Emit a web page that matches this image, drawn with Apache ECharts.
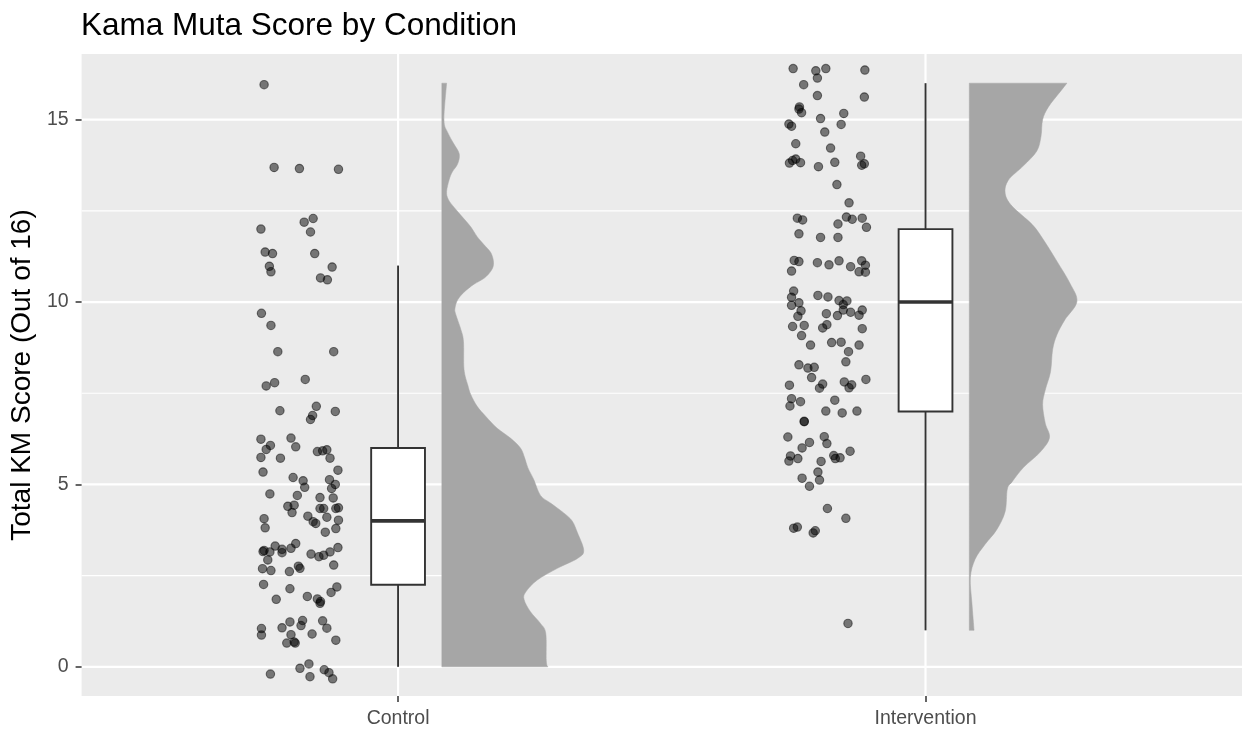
<!DOCTYPE html>
<html>
<head>
<meta charset="utf-8">
<title>Kama Muta Score by Condition</title>
<script src="https://cdn.jsdelivr.net/npm/echarts@6/dist/echarts.min.js"></script>
<style>
  html, body { margin: 0; padding: 0; background: #ffffff; }
  #chart { width: 1242px; height: 729px; }
</style>
</head>
<body>
<div id="chart"></div>
<script>
// ---- data ----
const categories = ['Control', 'Intervention'];
const yTicks = [0, 5, 10, 15];
const yMinorTicks = [2.5, 7.5, 12.5];

// jittered raw scores: [jittered category position, score]
const controlPoints = [
  [0.746, 15.96], [0.765, 13.69], [0.813, 13.66], [0.887, 13.64], [0.822, 12.19],
  [0.839, 12.29], [0.740, 12.00], [0.834, 11.92], [0.748, 11.37], [0.762, 11.33],
  [0.842, 11.33], [0.756, 10.98], [0.759, 10.83], [0.875, 10.96], [0.853, 10.66],
  [0.866, 10.61], [0.741, 9.69], [0.759, 9.36], [0.772, 8.64], [0.878, 8.64],
  [0.750, 7.70], [0.766, 7.79], [0.824, 7.88], [0.776, 7.02], [0.845, 7.14],
  [0.838, 6.89], [0.834, 6.78], [0.881, 7.00], [0.740, 6.24], [0.797, 6.27],
  [0.758, 6.07], [0.750, 5.96], [0.806, 6.03], [0.847, 5.90], [0.857, 5.92],
  [0.865, 5.95], [0.740, 5.74], [0.777, 5.72], [0.871, 5.72], [0.744, 5.34],
  [0.886, 5.39], [0.801, 5.19], [0.820, 5.10], [0.823, 4.92], [0.870, 5.13],
  [0.881, 5.00], [0.874, 4.89], [0.757, 4.74], [0.809, 4.70], [0.852, 4.64],
  [0.877, 4.63], [0.791, 4.40], [0.803, 4.43], [0.799, 4.23], [0.852, 4.34],
  [0.859, 4.34], [0.882, 4.34], [0.887, 4.36], [0.746, 4.06], [0.748, 3.81],
  [0.829, 4.13], [0.839, 3.98], [0.844, 3.93], [0.865, 4.10], [0.887, 4.02],
  [0.882, 3.79], [0.862, 3.69], [0.767, 3.31], [0.746, 3.19], [0.744, 3.16],
  [0.757, 3.15], [0.780, 3.22], [0.780, 3.13], [0.797, 3.25], [0.806, 3.38],
  [0.753, 2.93], [0.835, 3.09], [0.850, 3.02], [0.859, 3.06], [0.871, 3.15],
  [0.886, 3.27], [0.878, 2.79], [0.743, 2.69], [0.759, 2.64], [0.794, 2.61],
  [0.811, 2.76], [0.814, 2.70], [0.745, 2.26], [0.795, 2.14], [0.884, 2.19],
  [0.873, 2.04], [0.769, 1.85], [0.828, 1.93], [0.847, 1.86], [0.853, 1.79],
  [0.852, 1.74], [0.741, 1.05], [0.741, 0.87], [0.780, 1.07], [0.795, 1.23],
  [0.819, 1.27], [0.816, 1.13], [0.797, 0.88], [0.789, 0.65], [0.803, 0.68],
  [0.805, 0.65], [0.837, 0.90], [0.857, 1.26], [0.865, 1.06], [0.882, 0.73],
  [0.758, -0.20], [0.814, -0.04], [0.831, 0.08], [0.833, -0.27], [0.860, -0.08],
  [0.869, -0.16], [0.876, -0.33]
];

const interventionPoints = [
  [1.749, 16.40], [1.792, 16.34], [1.811, 16.40], [1.885, 16.36], [1.795, 16.14],
  [1.769, 15.96], [1.795, 15.66], [1.884, 15.62], [1.761, 15.35], [1.760, 15.29],
  [1.765, 15.19], [1.801, 15.03], [1.845, 15.17], [1.741, 14.88], [1.746, 14.82],
  [1.840, 14.87], [1.809, 14.66], [1.754, 14.34], [1.820, 14.22], [1.742, 13.81],
  [1.748, 13.88], [1.754, 13.92], [1.763, 13.82], [1.797, 13.71], [1.828, 13.83],
  [1.877, 14.00], [1.879, 13.75], [1.884, 13.79], [1.832, 13.22], [1.855, 12.72],
  [1.757, 12.30], [1.767, 12.25], [1.834, 12.14], [1.850, 12.33], [1.861, 12.27],
  [1.880, 12.30], [1.888, 12.05], [1.760, 11.87], [1.801, 11.77], [1.834, 11.77],
  [1.751, 11.14], [1.760, 11.11], [1.746, 10.85], [1.795, 11.08], [1.817, 11.02],
  [1.836, 11.13], [1.858, 10.97], [1.879, 11.13], [1.886, 11.01], [1.874, 10.83],
  [1.886, 10.82], [1.750, 10.30], [1.746, 10.13], [1.760, 9.98], [1.746, 9.91],
  [1.796, 10.18], [1.815, 10.14], [1.836, 10.04], [1.851, 10.03], [1.844, 9.93],
  [1.764, 9.76], [1.758, 9.61], [1.812, 9.68], [1.844, 9.78], [1.858, 9.72],
  [1.833, 9.63], [1.880, 9.78], [1.874, 9.64], [1.748, 9.33], [1.770, 9.36],
  [1.805, 9.29], [1.813, 9.38], [1.880, 9.27],
  [1.765, 9.08], [1.782, 8.82], [1.822, 8.89], [1.840, 8.90], [1.854, 8.64],
  [1.874, 8.82], [1.760, 8.28], [1.777, 8.19], [1.789, 8.21], [1.784, 7.93],
  [1.849, 8.36], [1.742, 7.72], [1.799, 7.64], [1.805, 7.75], [1.846, 7.81],
  [1.855, 7.65], [1.860, 7.73], [1.887, 7.88], [1.746, 7.35], [1.743, 7.15],
  [1.763, 7.27], [1.828, 7.31], [1.811, 7.01], [1.842, 6.96], [1.870, 7.01],
  [1.770, 6.73], [1.770, 6.72], [1.739, 6.30], [1.780, 6.15], [1.766, 6.00],
  [1.808, 6.31], [1.813, 6.12], [1.744, 5.78], [1.741, 5.64], [1.758, 5.71],
  [1.826, 5.79], [1.829, 5.71], [1.838, 5.73], [1.857, 5.91], [1.802, 5.63],
  [1.796, 5.34], [1.799, 5.12], [1.766, 5.17], [1.780, 4.95], [1.814, 4.34],
  [1.849, 4.07], [1.750, 3.80], [1.757, 3.83], [1.787, 3.67], [1.791, 3.73],
  [1.853, 1.19]
];

// box summaries: [lower whisker, Q1, median, Q3, upper whisker]
const controlBox = [0, 2.25, 4, 6, 11];
const interventionBox = [1, 7, 10, 12, 16];

// half-violin density profiles: score levels and half-widths (category units)
const controlDensityY = [16.0, 15.0, 14.65, 14.33, 14.06, 13.79, 13.57, 13.36, 13.03, 12.82,
  12.60, 12.33, 12.06, 11.79, 11.57, 11.35, 11.08, 10.87, 10.65, 10.49, 10.27, 10.06, 9.84,
  9.68, 9.25, 8.92, 8.16, 7.73, 7.46, 7.14, 6.87, 6.54, 6.27, 6.00, 5.73, 5.46, 5.14, 4.70,
  4.49, 4.22, 4.00, 3.68, 3.19, 2.97, 2.70, 2.38, 2.05, 1.84, 1.51, 1.19, 0.92, 0.16, 0];
const controlDensityW = [0.009, 0.004, 0.011, 0.023, 0.033, 0.030, 0.020, 0.014, 0.009, 0.012,
  0.023, 0.039, 0.055, 0.067, 0.080, 0.093, 0.098, 0.094, 0.080, 0.061, 0.042, 0.030, 0.025,
  0.026, 0.036, 0.041, 0.042, 0.049, 0.055, 0.067, 0.083, 0.105, 0.130, 0.149, 0.157, 0.163,
  0.174, 0.187, 0.206, 0.231, 0.247, 0.257, 0.269, 0.257, 0.219, 0.181, 0.159, 0.156, 0.168,
  0.187, 0.197, 0.198, 0.201];
const interventionDensityY = [16.0, 15.76, 15.35, 15.0, 14.55, 14.14, 13.74, 13.34, 12.98,
  12.63, 12.13, 11.72, 11.12, 10.51, 10.01, 9.51, 9.10, 8.70, 8.09, 7.59, 7.19, 6.68, 6.28,
  5.88, 5.47, 5.07, 4.87, 4.26, 3.76, 3.36, 2.95, 2.45, 1.74, 1.0];
const interventionDensityW = [0.185, 0.172, 0.150, 0.139, 0.136, 0.128, 0.103, 0.074, 0.068,
  0.081, 0.119, 0.140, 0.166, 0.191, 0.204, 0.181, 0.166, 0.158, 0.154, 0.144, 0.139, 0.144,
  0.152, 0.134, 0.103, 0.081, 0.072, 0.068, 0.052, 0.030, 0.011, 0.002, 0.005, 0.009];

// ---- layout / style constants ----
const FONT = "'Liberation Sans', Arial, sans-serif";
const BOX_HALF = 0.051;       // half box width in category units
const VIOLIN_OFFSET = 0.083;  // gap between category centre and violin base
const densities = [
  { y: controlDensityY, w: controlDensityW },
  { y: interventionDensityY, w: interventionDensityW }
];

const catPositions = categories.map((c, i) => i + 1);
const gridRows = yTicks.map(v => [1, v, 1]).concat(yMinorTicks.map(v => [1, v, 0]));
const gridCols = catPositions.map(p => [p, 0]);

// Smooth outline through pixel points (Catmull-Rom rendered as cubic Beziers)
function smoothEdge(pts) {
  let d = '';
  for (let i = 0; i < pts.length - 1; i++) {
    const p0 = pts[Math.max(0, i - 1)];
    const p1 = pts[i];
    const p2 = pts[i + 1];
    const p3 = pts[Math.min(pts.length - 1, i + 2)];
    const c1x = p1[0] + (p2[0] - p0[0]) / 6, c1y = p1[1] + (p2[1] - p0[1]) / 6;
    const c2x = p2[0] - (p3[0] - p1[0]) / 6, c2y = p2[1] - (p3[1] - p1[1]) / 6;
    d += ' C' + c1x + ',' + c1y + ' ' + c2x + ',' + c2y + ' ' + p2[0] + ',' + p2[1];
  }
  return d;
}

const chart = echarts.init(document.getElementById('chart'), null, { renderer: 'canvas' });

chart.setOption({
  animation: false,
  backgroundColor: '#ffffff',
  title: {
    text: 'Kama Muta Score by Condition',
    left: 76,
    top: 5,
    textStyle: { fontFamily: FONT, fontSize: 31.5, fontWeight: 'normal', color: '#000000' }
  },
  grid: {
    left: 80, top: 54, width: 1164, height: 644,
    show: true, backgroundColor: '#EBEBEB', borderWidth: 0,
    containLabel: false
  },
  xAxis: {
    type: 'value',
    min: 0.4,
    max: 2.6,
    axisLine: { show: false, onZero: false },
    splitLine: { show: false },
    axisTick: {
      show: true, customValues: catPositions, length: 6,
      lineStyle: { color: '#333333', width: 1.5 }
    },
    axisLabel: {
      customValues: catPositions,
      formatter: v => categories[Math.round(v) - 1] || '',
      color: '#4D4D4D', fontFamily: FONT, fontSize: 19.5, margin: 13
    }
  },
  yAxis: {
    type: 'value',
    min: -0.8,
    max: 16.8,
    name: 'Total KM Score (Out of 16)',
    nameLocation: 'middle',
    nameGap: 42,
    nameTextStyle: { fontFamily: FONT, fontSize: 28, color: '#000000' },
    axisLine: { show: false, onZero: false },
    splitLine: { show: false },
    axisTick: {
      show: true, customValues: yTicks, length: 6,
      lineStyle: { color: '#333333', width: 1.5 }
    },
    axisLabel: {
      customValues: yTicks,
      formatter: v => String(v),
      color: '#4D4D4D', fontFamily: FONT, fontSize: 19.5, margin: 13
    }
  },
  series: [
    {
      // horizontal panel grid lines (major and minor)
      type: 'custom',
      z: 0,
      silent: true,
      data: gridRows,
      encode: { x: 0, y: 1 },
      renderItem: (params, api) => {
        const cs = params.coordSys;
        const y = api.coord([1, api.value(1)])[1];
        const major = api.value(2) === 1;
        return {
          type: 'line',
          shape: { x1: cs.x, y1: y, x2: cs.x + cs.width, y2: y },
          style: { stroke: '#FFFFFF', lineWidth: major ? 2.2 : 1.1 }
        };
      }
    },
    {
      // vertical grid lines at the categories
      type: 'custom',
      z: 0,
      silent: true,
      data: gridCols,
      encode: { x: 0, y: 1 },
      renderItem: (params, api) => {
        const cs = params.coordSys;
        const x = api.coord([api.value(0), 0])[0];
        return {
          type: 'line',
          shape: { x1: x, y1: cs.y, x2: x, y2: cs.y + cs.height },
          style: { stroke: '#FFFFFF', lineWidth: 2.2 }
        };
      }
    },
    {
      // half violins (density of scores)
      type: 'custom',
      z: 2,
      silent: true,
      data: catPositions.map(p => [p, 0]),
      encode: { x: 0, y: 1 },
      renderItem: (params, api) => {
        const prof = densities[params.dataIndex];
        const base = api.value(0) + VIOLIN_OFFSET;
        const n = prof.y.length;
        const edge = prof.y.map((v, i) => api.coord([base + prof.w[i], v]));
        const top = api.coord([base, prof.y[0]]);
        const bottom = api.coord([base, prof.y[n - 1]]);
        const d = 'M' + top[0] + ',' + top[1] +
          ' L' + edge[0][0] + ',' + edge[0][1] +
          smoothEdge(edge) +
          ' L' + bottom[0] + ',' + bottom[1] + ' Z';
        return {
          type: 'path',
          shape: { pathData: d },
          style: { fill: '#A6A6A6', stroke: '#A6A6A6', lineWidth: 0.5 }
        };
      }
    },
    {
      // jittered raw points
      type: 'scatter',
      z: 3,
      silent: true,
      symbol: 'circle',
      symbolSize: 8.4,
      data: controlPoints.concat(interventionPoints),
      itemStyle: {
        color: 'rgba(0,0,0,0.5)',
        borderColor: 'rgba(0,0,0,0.5)',
        borderWidth: 1.1,
        opacity: 1
      }
    },
    {
      // box plots
      type: 'custom',
      z: 4,
      silent: true,
      data: [[1].concat(controlBox), [2].concat(interventionBox)],
      encode: { x: 0, y: [1, 2, 3, 4, 5] },
      renderItem: (params, api) => {
        const x = api.value(0);
        const lo = api.value(1), q1 = api.value(2), med = api.value(3),
              q3 = api.value(4), hi = api.value(5);
        const cx = api.coord([x, med])[0];
        const xl = api.coord([x - BOX_HALF, med])[0];
        const xr = api.coord([x + BOX_HALF, med])[0];
        const yLo = api.coord([x, lo])[1];
        const yQ1 = api.coord([x, q1])[1];
        const yMed = api.coord([x, med])[1];
        const yQ3 = api.coord([x, q3])[1];
        const yHi = api.coord([x, hi])[1];
        const stroke = '#333333';
        return {
          type: 'group',
          children: [
            { type: 'line', shape: { x1: cx, y1: yLo, x2: cx, y2: yQ1 },
              style: { stroke: stroke, lineWidth: 1.9 } },
            { type: 'line', shape: { x1: cx, y1: yQ3, x2: cx, y2: yHi },
              style: { stroke: stroke, lineWidth: 1.9 } },
            { type: 'rect', shape: { x: xl, y: yQ3, width: xr - xl, height: yQ1 - yQ3 },
              style: { fill: '#FFFFFF', stroke: stroke, lineWidth: 1.9 } },
            { type: 'line', shape: { x1: xl, y1: yMed, x2: xr, y2: yMed },
              style: { stroke: stroke, lineWidth: 3.6 } }
          ]
        };
      }
    }
  ]
});
</script>
</body>
</html>
